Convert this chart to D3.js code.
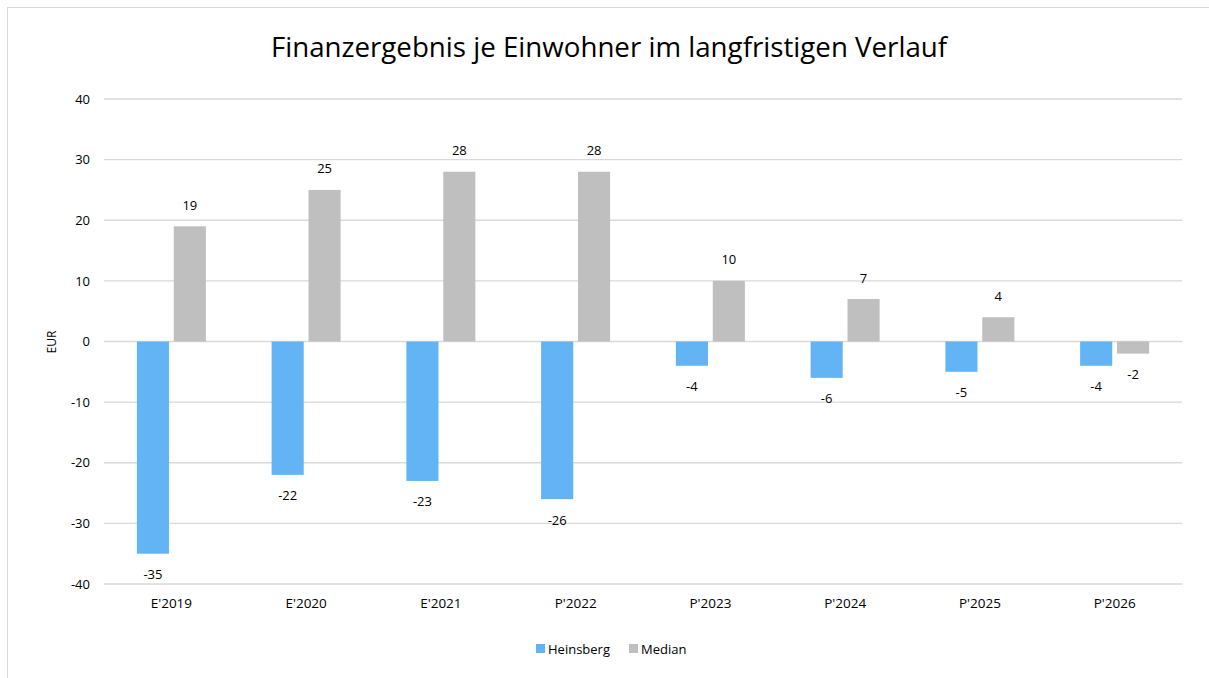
<!DOCTYPE html>
<html>
<head>
<meta charset="utf-8">
<script src="https://cdn.jsdelivr.net/npm/d3@7"></script>
<style>
  body { margin: 0; background: #fff; }
  text { font-family: "Open Sans", "Noto Sans", sans-serif; fill: #000; }
</style>
</head>
<body>
<svg width="1209" height="678"></svg>
<script>
var categories = ["E'2019", "E'2020", "E'2021", "P'2022", "P'2023", "P'2024", "P'2025", "P'2026"];
var heinsberg = [-35, -22, -23, -26, -4, -6, -5, -4];
var median = [19, 25, 28, 28, 10, 7, 4, -2];
var yTicks = [-40, -30, -20, -10, 0, 10, 20, 30, 40];
var seriesNames = ['Heinsberg', 'Median'];
var colors = ['#63b4f5', '#bfbfbf'];

var svg = d3.select('svg');

// chart frame
svg.append('rect')
   .attr('x', 7.5).attr('y', 7.5)
   .attr('width', 1220).attr('height', 700)
   .attr('fill', 'none')
   .attr('stroke', '#d9d9d9');

var plotLeft = 104, plotRight = 1182, plotTop = 99, plotBottom = 584;

var xScale = d3.scaleBand().domain(categories).range([plotLeft, plotRight]);
var yScale = d3.scaleLinear().domain([-40, 40]).range([plotBottom, plotTop]);
var inner = d3.scaleBand().domain(seriesNames).range([-34.5, 34.5]).paddingInner(0.13);

// title
svg.append('text')
   .attr('x', 609).attr('y', 57)
   .attr('text-anchor', 'middle')
   .style('font-size', '27.7px')
   .text('Finanzergebnis je Einwohner im langfristigen Verlauf');

// grid lines
svg.append('g')
   .selectAll('line')
   .data(yTicks)
   .enter().append('line')
   .attr('x1', plotLeft).attr('x2', plotRight)
   .attr('y1', function(d) { return yScale(d); })
   .attr('y2', function(d) { return yScale(d); })
   .attr('stroke', '#d9d9d9')
   .attr('stroke-width', 1.3);

// y axis labels (plain hyphen minus like the original)
var yAxis = svg.append('g')
   .attr('transform', 'translate(' + (plotLeft - 14) + ',0)')
   .call(d3.axisLeft(yScale).tickValues(yTicks).tickSize(0).tickPadding(0)
           .tickFormat(function(d) { return String(d); }));
yAxis.select('.domain').remove();
yAxis.selectAll('text').style('font-size', '13px');

// x axis labels
var xAxis = svg.append('g')
   .attr('transform', 'translate(0,' + plotBottom + ')')
   .call(d3.axisBottom(xScale).tickSize(0).tickPadding(14));
xAxis.select('.domain').remove();
xAxis.selectAll('text').style('font-size', '13.5px');

// EUR label
svg.append('text')
   .attr('transform', 'translate(56,342) rotate(-90)')
   .attr('text-anchor', 'middle')
   .style('font-size', '12px')
   .text('EUR');

var series = [heinsberg, median];

series.forEach(function(values, s) {
    var g = svg.append('g');
    var rows = categories.map(function(c, i) { return {cat: c, v: values[i]}; });

    g.selectAll('rect')
     .data(rows)
     .enter().append('rect')
     .attr('x', function(d) { return xScale(d.cat) + xScale.bandwidth() / 2 + inner(seriesNames[s]); })
     .attr('width', inner.bandwidth())
     .attr('y', function(d) { return yScale(Math.max(0, d.v)); })
     .attr('height', function(d) { return Math.abs(yScale(d.v) - yScale(0)); })
     .attr('fill', colors[s]);

    g.selectAll('text')
     .data(rows)
     .enter().append('text')
     .attr('x', function(d) { return xScale(d.cat) + xScale.bandwidth() / 2 + inner(seriesNames[s]) + inner.bandwidth() / 2; })
     .attr('y', function(d) { return yScale(d.v) + (d.v < 0 ? 21 : -21); })
     .attr('dy', '0.35em')
     .attr('text-anchor', 'middle')
     .style('font-size', '13px')
     .text(function(d) { return String(d.v); });
});

// legend
var legendX = [536, 629];
var legend = svg.append('g');
seriesNames.forEach(function(name, i) {
    legend.append('rect')
      .attr('x', legendX[i]).attr('y', 644)
      .attr('width', 9).attr('height', 9)
      .attr('fill', colors[i]);
    legend.append('text')
      .attr('x', legendX[i] + 12).attr('y', 649)
      .attr('dy', '0.35em')
      .style('font-size', '13px')
      .text(name);
});
</script>
</body>
</html>
